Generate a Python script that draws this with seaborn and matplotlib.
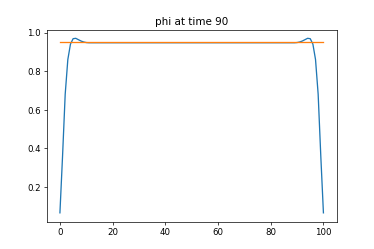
import matplotlib
matplotlib.use("Agg")
from matplotlib import pyplot as plt
import seaborn as sns
import numpy as np

# grid positions
x = list(range(101))

# phi values (edges, then flat middle)
phi_left = [0.065, 0.36, 0.68, 0.86, 0.94, 0.968, 0.970, 0.963, 0.956, 0.951, 0.948, 0.947]
phi_mid = [0.947] * 77
phi_right = [0.947, 0.948, 0.951, 0.956, 0.963, 0.970, 0.968, 0.94, 0.86, 0.68, 0.36, 0.065]
phi = phi_left + phi_mid + phi_right

# reference level
ref = [0.949] * 101

fig, ax = plt.subplots(figsize=(6, 4), dpi=374 / 6)
sns.lineplot(x=x, y=phi, ax=ax, color='tab:blue')
sns.lineplot(x=x, y=ref, ax=ax, color='tab:orange')
ax.set_title('phi at time 90')
plt.savefig('out.png')
